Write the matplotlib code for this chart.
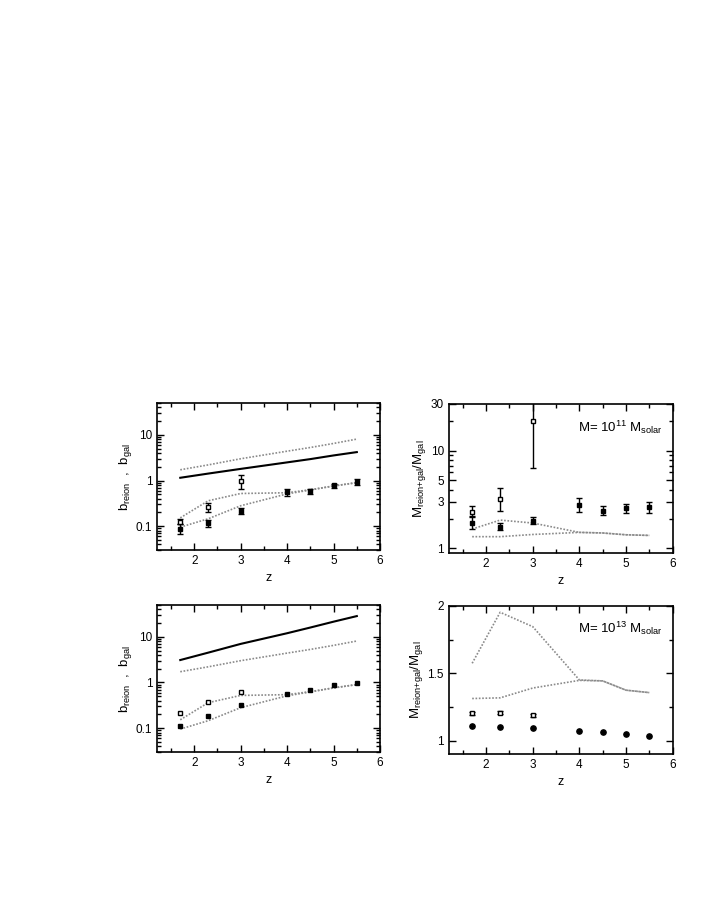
import numpy as np
import matplotlib
matplotlib.use("Agg")
import matplotlib.pyplot as plt
from matplotlib.ticker import FixedLocator, NullFormatter, MultipleLocator, LogLocator

plt.rcParams["font.family"] = ["Liberation Sans", "DejaVu Sans"]
plt.rcParams["mathtext.default"] = "regular"
plt.rcParams["font.size"] = 8.5

z_all = [1.7, 2.3, 3.0, 4.0, 4.5, 5.0, 5.5]
z_low = [1.7, 2.3, 3.0]

# ── bias panels ──────────────────────────────────────────────────────────────
b_dm_upper = [1.72, 2.2, 3.0, 4.4, 5.3, 6.5, 8.1]     # dotted, same in both
b_solid_11 = [1.15, 1.42, 1.8, 2.5, 2.95, 3.55, 4.2]
b_solid_13 = [3.1, 4.5, 7.0, 12.0, 16.0, 21.5, 28.5]
b_line_a = [0.152, 0.36, 0.52, 0.54, 0.63, 0.76, 0.9]  # upper gray
b_line_b = [0.095, 0.145, 0.28, 0.51, 0.62, 0.76, 0.9]  # lower gray

b_gal_11 = [0.088, 0.119, 0.216, 0.55, 0.58, 0.78, 0.92]
b_gal_11_lo = [0.066, 0.097, 0.186, 0.45, 0.50, 0.70, 0.81]
b_gal_11_hi = [0.113, 0.135, 0.25, 0.65, 0.66, 0.86, 1.06]
b_reion_11 = [0.125, 0.26, 0.98]
b_reion_11_lo = [0.109, 0.20, 0.65]
b_reion_11_hi = [0.147, 0.32, 1.35]

b_gal_13 = [0.112, 0.186, 0.32, 0.55, 0.68, 0.86, 0.99]
b_reion_13 = [0.21, 0.37, 0.61]

# ── mass ratio panels ────────────────────────────────────────────────────────
m_line_a_11 = [1.58, 1.95, 1.82, 1.46, 1.44, 1.38, 1.36]
m_line_b_11 = [1.32, 1.32, 1.39, 1.46, 1.44, 1.38, 1.36]
m_gal_11 = [1.83, 1.67, 1.92, 2.79, 2.44, 2.58, 2.64]
m_gal_11_lo = [1.58, 1.54, 1.78, 2.34, 2.18, 2.31, 2.29]
m_gal_11_hi = [2.15, 1.81, 2.08, 3.27, 2.72, 2.87, 3.01]
m_reion_11 = [2.38, 3.19, 20.0]
m_reion_11_lo = [2.08, 2.44, 6.7]
m_reion_11_hi = [2.72, 4.14, 40.0]

m_line_a_13 = [1.574, 1.953, 1.846, 1.45, 1.443, 1.374, 1.356]
m_line_b_13 = [1.312, 1.317, 1.39, 1.447, 1.443, 1.374, 1.356]
m_reion_13 = [1.203, 1.208, 1.188]
m_gal_13 = [1.107, 1.099, 1.094, 1.07, 1.06, 1.05, 1.037]

GRAY = "#8a8a8a"
DOT = (0, (1, 1))


def errs(v, lo, hi):
    v, lo, hi = np.array(v), np.array(lo), np.array(hi)
    return [v - lo, hi - v]


def style(ax):
    ax.set_xlim(1.2, 6)
    ax.xaxis.set_major_locator(FixedLocator([2, 3, 4, 5, 6]))
    ax.xaxis.set_minor_locator(MultipleLocator(0.5))
    ax.tick_params(which="both", direction="in", top=True, right=True, width=1)
    ax.tick_params(which="major", length=5)
    ax.tick_params(which="minor", length=3)
    for s in ax.spines.values():
        s.set_linewidth(1.2)
    ax.set_xlabel("z", fontsize=9)


fig = plt.figure(figsize=(7.08, 9.17), dpi=100)
ax1 = fig.add_axes([0.2218, 0.4002, 0.315, 0.1603])
ax2 = fig.add_axes([0.634, 0.397, 0.316, 0.1625])
ax3 = fig.add_axes([0.2218, 0.18, 0.315, 0.1603])
ax4 = fig.add_axes([0.634, 0.1778, 0.316, 0.1614])

eb = dict(capsize=2, elinewidth=1, capthick=1, color="black")

# top-left
ax1.plot(z_all, b_dm_upper, linestyle=DOT, color=GRAY, lw=1.2)
ax1.plot(z_all, b_solid_11, "-", color="black", lw=1.5)
ax1.plot(z_all, b_line_a, linestyle=DOT, color=GRAY, lw=1.2)
ax1.plot(z_all, b_line_b, linestyle=DOT, color=GRAY, lw=1.2)
ax1.errorbar(z_all, b_gal_11, yerr=errs(b_gal_11, b_gal_11_lo, b_gal_11_hi),
             fmt="s", ms=3.2, **eb)
ax1.errorbar(z_low, b_reion_11, yerr=errs(b_reion_11, b_reion_11_lo, b_reion_11_hi),
             fmt="s", ms=3.2, mfc="white", mec="black", **eb)

# bottom-left
ax3.plot(z_all, b_dm_upper, linestyle=DOT, color=GRAY, lw=1.2)
ax3.plot(z_all, b_solid_13, "-", color="black", lw=1.5)
ax3.plot(z_all, b_line_a, linestyle=DOT, color=GRAY, lw=1.2)
ax3.plot(z_all, b_line_b, linestyle=DOT, color=GRAY, lw=1.2)
ax3.plot(z_all, b_gal_13, "s", ms=3.5, color="black")
ax3.plot(z_low, b_reion_13, "s", ms=3.5, mfc="white", mec="black")

for ax in (ax1, ax3):
    ax.set_yscale("log")
    ax.set_ylim(0.03, 50)
    ax.yaxis.set_major_locator(FixedLocator([0.1, 1, 10]))
    ax.set_yticklabels(["0.1", "1", "10"])
    ax.yaxis.set_minor_locator(LogLocator(base=10, subs=np.arange(2, 10)))
    ax.yaxis.set_minor_formatter(NullFormatter())
    style(ax)
    ax.set_ylabel(r"b$_{reion}$  ,  b$_{gal}$", fontsize=9.5, labelpad=1)

# top-right
ax2.plot(z_all, m_line_a_11, linestyle=DOT, color=GRAY, lw=1.2)
ax2.plot(z_all, m_line_b_11, linestyle=DOT, color=GRAY, lw=1.2)
ax2.errorbar(z_all, m_gal_11, yerr=errs(m_gal_11, m_gal_11_lo, m_gal_11_hi),
             fmt="s", ms=3.2, **eb)
ax2.errorbar(z_low, m_reion_11, yerr=errs(m_reion_11, m_reion_11_lo, m_reion_11_hi),
             fmt="s", ms=3.2, mfc="white", mec="black", **eb)
ax2.set_yscale("log")
ax2.set_ylim(0.9, 30)
ax2.yaxis.set_major_locator(FixedLocator([1, 3, 5, 10, 30]))
ax2.set_yticklabels(["1", "3", "5", "10", "30"])
ax2.yaxis.set_minor_locator(FixedLocator([2, 4, 6, 7, 8, 9, 20]))
ax2.yaxis.set_minor_formatter(NullFormatter())
style(ax2)
ax2.text(0.575, 0.845, r"M= 10$^{11}$ M$_{solar}$", transform=ax2.transAxes,
         fontsize=9.5, va="center")

# bottom-right
ax4.plot(z_all, m_line_a_13, linestyle=DOT, color=GRAY, lw=1.2)
ax4.plot(z_all, m_line_b_13, linestyle=DOT, color=GRAY, lw=1.2)
ax4.errorbar(z_low, m_reion_13, yerr=0.012, fmt="s", ms=3.2, mfc="white",
             mec="black", **eb)
ax4.plot(z_all, m_gal_13, "o", ms=3.8, color="black")
ax4.set_ylim(0.9, 2)
ax4.yaxis.set_major_locator(FixedLocator([1, 1.5, 2]))
ax4.set_yticklabels(["1", "1.5", "2"])
ax4.yaxis.set_minor_locator(FixedLocator([1.25, 1.75]))
style(ax4)
ax4.text(0.575, 0.85, r"M= 10$^{13}$ M$_{solar}$", transform=ax4.transAxes,
         fontsize=9.5, va="center")

for ax in (ax2, ax4):
    ax.set_ylabel(r"M$_{reion{+}gal}$/M$_{gal}$", fontsize=9.5, labelpad=2)

fig.savefig("out.png", dpi=100)
